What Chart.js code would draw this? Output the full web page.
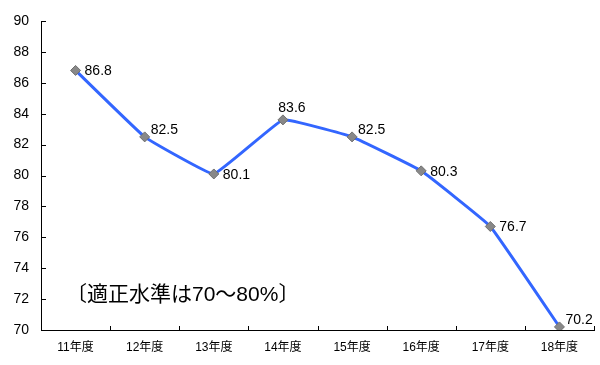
<!DOCTYPE html>
<html>
<head>
<meta charset="utf-8">
<script src="https://cdn.jsdelivr.net/npm/chart.js@4.4.1/dist/chart.umd.min.js"></script>
<style>
  html, body { margin: 0; padding: 0; background: #fff; }
  #wrap { width: 600px; height: 365px; position: relative; }
</style>
</head>
<body>
<div id="wrap"><canvas id="chart"></canvas></div>
<script>
const years = ["11年度", "12年度", "13年度", "14年度", "15年度", "16年度", "17年度", "18年度"];
const ratios = [86.8, 82.5, 80.1, 83.6, 82.5, 80.3, 76.7, 70.2];
const yTicks = [70, 72, 74, 76, 78, 80, 82, 84, 86, 88, 90];
const note = "〔適正水準は70〜80%〕";

const FONT = '"Liberation Sans", "Noto Sans CJK JP", sans-serif';

// where each value label sits relative to its marker
const labelPlace = ["right", "upRight", "right", "above", "upRight", "right", "right", "upRight"];

const insideTicks = {
  id: "insideTicks",
  afterDraw(chart) {
    const { ctx, chartArea: area, scales: { x, y } } = chart;
    ctx.save();
    ctx.strokeStyle = "#000";
    ctx.lineWidth = 1;
    ctx.beginPath();
    yTicks.forEach((v) => {
      const py = Math.round(y.getPixelForValue(v)) + 0.5;
      ctx.moveTo(area.left, py);
      ctx.lineTo(area.left + 5, py);
    });
    const step = (area.right - area.left) / years.length;
    for (let i = 1; i <= years.length; i++) {
      const px = Math.round(area.left + step * i) + 0.5;
      ctx.moveTo(px, area.bottom);
      ctx.lineTo(px, area.bottom - 4);
    }
    ctx.stroke();
    ctx.restore();
  },
};

const valueLabels = {
  id: "valueLabels",
  afterDatasetsDraw(chart) {
    const { ctx } = chart;
    const meta = chart.getDatasetMeta(0);
    ctx.save();
    ctx.font = "14px " + FONT;
    ctx.fillStyle = "#000";
    ctx.textBaseline = "middle";
    meta.data.forEach((pt, i) => {
      const txt = String(ratios[i]);
      const place = labelPlace[i];
      if (place === "above") {
        ctx.textAlign = "center";
        ctx.fillText(txt, pt.x + 9, pt.y - 12);
      } else if (place === "upRight") {
        ctx.textAlign = "left";
        ctx.fillText(txt, pt.x + 6, pt.y - 7);
      } else {
        ctx.textAlign = "left";
        ctx.fillText(txt, pt.x + 9, pt.y + 1);
      }
    });
    // note text inside the plot
    ctx.font = "21px " + FONT;
    ctx.textAlign = "left";
    ctx.fillText(note, 66, 295);
    ctx.restore();
  },
};

new Chart(document.getElementById("chart"), {
  type: "line",
  data: {
    labels: years,
    datasets: [
      {
        data: ratios,
        borderColor: "#3366ff",
        borderWidth: 3,
        tension: 0.08,
        pointStyle: "rectRot",
        pointRadius: 5,
        pointHoverRadius: 5,
        pointBackgroundColor: "#888888",
        pointBorderColor: "#707070",
        pointBorderWidth: 1,
      },
    ],
  },
  options: {
    responsive: true,
    maintainAspectRatio: false,
    animation: false,
    events: [],
    layout: { padding: { top: 21, right: 5, left: 0, bottom: 0 } },
    plugins: { legend: { display: false }, tooltip: { enabled: false } },
    scales: {
      x: {
        offset: true,
        grid: { display: false, drawTicks: false },
        border: { display: true, color: "#000", width: 1 },
        ticks: { color: "#000", font: { family: FONT, size: 12 }, padding: 10, maxRotation: 0 },
        afterFit: (scale) => { scale.height = 35; },
      },
      y: {
        min: 70,
        max: 90,
        grid: { display: false, drawTicks: false },
        border: { display: true, color: "#000", width: 1 },
        ticks: { stepSize: 2, color: "#000", font: { family: FONT, size: 14 }, padding: 12 },
        afterFit: (scale) => { scale.width = 41; },
      },
    },
  },
  plugins: [insideTicks, valueLabels],
});
</script>
</body>
</html>
